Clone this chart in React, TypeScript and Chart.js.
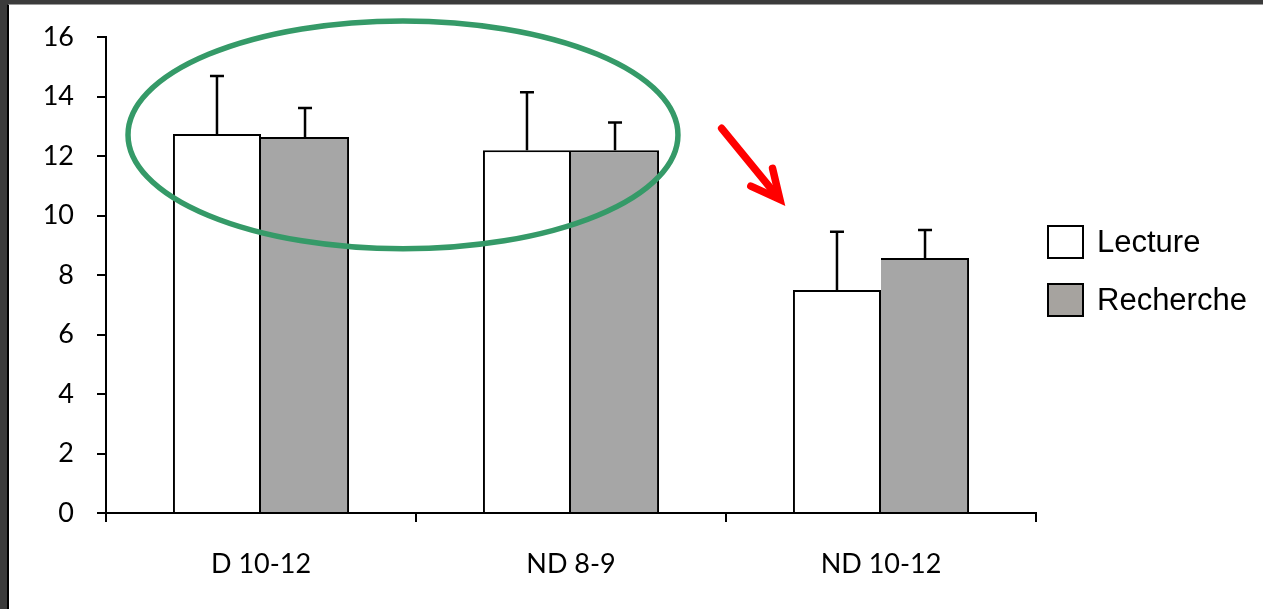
import React, { useEffect, useRef } from "react";
import { Chart, registerables } from "chart.js";

Chart.register(...registerables);

const categories = ["D 10-12", "ND 8-9", "ND 10-12"];
const seriesNames = ["Lecture", "Recherche"];
const lectureValues = [12.74, 12.19, 7.5];
const lectureErrors = [1.95, 1.95, 1.95];
const rechercheValues = [12.64, 12.19, 8.57];
const rechercheErrors = [0.97, 0.94, 0.94];
const yTicks = [0, 2, 4, 6, 8, 10, 12, 14, 16];

// annotation shapes in data coordinates (category index, value)
const ellipseCenter = { x: 0.458, y: 12.71 };
const ellipseRadius = { x: 0.887, y: 3.83 };
const arrowFrom = { x: 1.486, y: 12.93 };
const arrowTo = { x: 1.68, y: 10.46 };

const errorBarPlugin = {
  id: "errorBars",
  afterDatasetsDraw(chart: any) {
    const ctx = chart.ctx;
    const y = chart.scales.y;
    const errs = [lectureErrors, rechercheErrors];
    chart.data.datasets.forEach((ds: any, di: number) => {
      const meta = chart.getDatasetMeta(di);
      meta.data.forEach((bar: any, i: number) => {
        const top = y.getPixelForValue(ds.data[i] + errs[di][i]);
        ctx.save();
        ctx.strokeStyle = "#000";
        ctx.lineWidth = 2.5;
        ctx.beginPath();
        ctx.moveTo(bar.x, bar.y);
        ctx.lineTo(bar.x, top);
        ctx.moveTo(bar.x - 7, top);
        ctx.lineTo(bar.x + 7, top);
        ctx.stroke();
        ctx.restore();
      });
    });
  },
};

const annotationPlugin = {
  id: "annotations",
  afterDraw(chart: any) {
    const ctx = chart.ctx;
    const xs = chart.scales.x;
    const ys = chart.scales.y;
    const catW = xs.getPixelForValue(1) - xs.getPixelForValue(0);
    const unitH = ys.getPixelForValue(0) - ys.getPixelForValue(1);
    ctx.save();
    // ellipse
    ctx.strokeStyle = "#359a68";
    ctx.lineWidth = 5.5;
    ctx.beginPath();
    ctx.ellipse(
      xs.getPixelForValue(ellipseCenter.x),
      ys.getPixelForValue(ellipseCenter.y),
      ellipseRadius.x * catW,
      ellipseRadius.y * unitH,
      0,
      0,
      Math.PI * 2
    );
    ctx.stroke();
    // arrow
    const x1 = xs.getPixelForValue(arrowFrom.x);
    const y1 = ys.getPixelForValue(arrowFrom.y);
    const x2 = xs.getPixelForValue(arrowTo.x);
    const y2 = ys.getPixelForValue(arrowTo.y);
    const ang = Math.atan2(y2 - y1, x2 - x1);
    const headLen = 32;
    const headAng = (26 * Math.PI) / 180;
    const tx = x2 - Math.cos(ang) * 3;
    const ty = y2 - Math.sin(ang) * 3;
    ctx.strokeStyle = "#ff0000";
    ctx.lineWidth = 7.5;
    ctx.lineCap = "round";
    ctx.lineJoin = "miter";
    ctx.beginPath();
    ctx.moveTo(x1, y1);
    ctx.lineTo(tx - Math.cos(ang) * 6, ty - Math.sin(ang) * 6);
    ctx.stroke();
    ctx.beginPath();
    ctx.moveTo(tx - headLen * Math.cos(ang - headAng), ty - headLen * Math.sin(ang - headAng));
    ctx.lineTo(tx, ty);
    ctx.lineTo(tx - headLen * Math.cos(ang + headAng), ty - headLen * Math.sin(ang + headAng));
    ctx.stroke();
    ctx.restore();
  },
};

const legendPlugin = {
  id: "customLegend",
  afterDraw(chart: any) {
    const ctx = chart.ctx;
    const area = chart.chartArea;
    const fills = ["#ffffff", "#a6a39f"];
    const left = area.right + 12;
    const mid = (area.top + area.bottom) / 2 - 4;
    ctx.save();
    seriesNames.forEach((name, i) => {
      const cy = mid - 29 + i * 58;
      ctx.fillStyle = fills[i];
      ctx.fillRect(left, cy - 16, 35, 32);
      ctx.strokeStyle = "#000";
      ctx.lineWidth = 2;
      ctx.strokeRect(left, cy - 16, 35, 32);
      ctx.fillStyle = "#000";
      ctx.font = "31px 'Liberation Sans', Arial, sans-serif";
      ctx.textBaseline = "middle";
      ctx.textAlign = "left";
      ctx.fillText(name, left + 49, cy + 1);
    });
    ctx.restore();
  },
};

export default function App() {
  const ref = useRef<HTMLCanvasElement | null>(null);
  useEffect(() => {
    if (!ref.current) return;
    const chart = new Chart(ref.current, {
      type: "bar",
      data: {
        labels: categories,
        datasets: [
          {
            label: seriesNames[0],
            data: lectureValues,
            backgroundColor: "#ffffff",
            borderColor: "#000000",
            borderWidth: { top: 2, left: 2, right: 2, bottom: 0 },
            categoryPercentage: 0.568,
            barPercentage: 1,
          },
          {
            label: seriesNames[1],
            data: rechercheValues,
            backgroundColor: "#a6a6a6",
            borderColor: "#000000",
            borderWidth: { top: 2, left: 0, right: 2, bottom: 0 },
            categoryPercentage: 0.568,
            barPercentage: 1,
          },
        ],
      },
      options: {
        responsive: false,
        animation: false,
        layout: { padding: { left: 0, top: 32, right: 227, bottom: 0 } },
        plugins: {
          legend: { display: false },
          tooltip: { enabled: false },
        },
        scales: {
          x: {
            grid: {
              offset: true,
              drawOnChartArea: false,
              drawTicks: true,
              tickLength: 9,
              color: "#000",
              lineWidth: 2,
            },
            border: { display: true, color: "#000", width: 2 },
            ticks: {
              color: "#000",
              font: { family: "Lato, 'Open Sans', sans-serif", size: 27 },
              padding: 26,
            },
            afterFit: (s: any) => {
              s.height = 96;
              s.paddingLeft = 0;
              s.paddingRight = 0;
            },
          },
          y: {
            min: 0,
            max: 16,
            afterBuildTicks: (s: any) => {
              s.ticks = yTicks.map((v) => ({ value: v }));
            },
            grid: {
              drawOnChartArea: false,
              drawTicks: true,
              tickLength: 9,
              color: "#000",
              lineWidth: 2,
            },
            border: { display: true, color: "#000", width: 2 },
            ticks: {
              color: "#000",
              font: { family: "Lato, 'Open Sans', sans-serif", size: 27 },
              padding: 23,
            },
            afterFit: (s: any) => {
              s.width = 97;
              s.paddingTop = 0;
              s.paddingBottom = 0;
            },
          },
        },
      },
      plugins: [errorBarPlugin, annotationPlugin, legendPlugin],
    });
    return () => chart.destroy();
  }, []);

  return (
    <div
      style={{
        position: "fixed",
        left: 0,
        top: 0,
        width: 1263,
        height: 609,
        background: "#3b3b3b",
        overflow: "hidden",
      }}
    >
      <div
        style={{
          position: "absolute",
          left: 7,
          top: 4,
          width: 1256,
          height: 605,
          boxSizing: "border-box",
          borderLeft: "2px solid #000",
          borderTop: "1px solid #9a9a9a",
          background: "#ffffff",
        }}
      >
        <canvas
          ref={ref}
          width={1254}
          height={604}
          style={{ position: "absolute", left: 0, top: 0, width: 1254, height: 604 }}
        />
      </div>
    </div>
  );
}
